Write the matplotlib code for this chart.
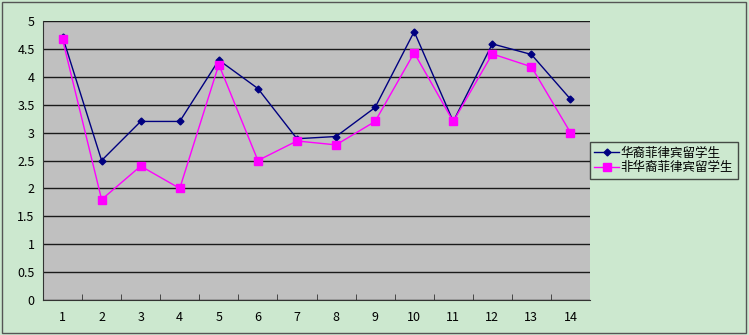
import matplotlib.pyplot as plt
from matplotlib.patches import Rectangle

plt.rcParams['font.family'] = ['Noto Sans CJK SC', 'DejaVu Sans']

# survey items 1..14
categories = list(range(1, 15))
chinese_filipino = [4.72, 2.5, 3.2, 3.2, 4.3, 3.79, 2.89, 2.93, 3.45, 4.81, 3.2, 4.59, 4.4, 3.6]
non_chinese_filipino = [4.67, 1.8, 2.4, 2.0, 4.22, 2.5, 2.85, 2.78, 3.2, 4.43, 3.2, 4.41, 4.18, 3.0]
series_names = ['华裔菲律宾留学生', '非华裔菲律宾留学生']

bg = '#CCE8CF'
fig = plt.figure(figsize=(7.49, 3.35), dpi=100, facecolor=bg)
ax = fig.add_axes([43 / 749, 1 - 300 / 335, (590 - 43) / 749, (300 - 21) / 335])
ax.set_facecolor('#C0C0C0')

ax.plot(categories, chinese_filipino, color='#000080', marker='D', markersize=3.5,
        linewidth=1, label=series_names[0], zorder=3)
ax.plot(categories, non_chinese_filipino, color='#FF00FF', marker='s', markersize=5.5,
        linewidth=1, label=series_names[1], zorder=3)

ax.set_xlim(0.5, 14.5)
ax.set_ylim(0, 5)
ax.set_yticks([0, 0.5, 1, 1.5, 2, 2.5, 3, 3.5, 4, 4.5, 5])
ax.set_yticklabels(['0', '0.5', '1', '1.5', '2', '2.5', '3', '3.5', '4', '4.5', '5'])
ax.yaxis.grid(True, color='#1a1a1a', linewidth=1)
ax.set_axisbelow(True)

# category labels at centres, tick marks between categories
ax.set_xticks(categories)
ax.set_xticklabels([str(c) for c in categories])
ax.tick_params(axis='x', length=0, labelsize=9, pad=8)
ax.set_xticks([c + 0.5 for c in categories[:-1]], minor=True)
ax.tick_params(axis='x', which='minor', direction='in', length=4, color='#333333')
ax.tick_params(axis='y', length=0, labelsize=9, pad=6)

for side in ['top', 'right']:
    ax.spines[side].set_visible(False)
ax.spines['left'].set_color('#333333')
ax.spines['bottom'].set_color('#333333')

leg = fig.legend(loc='center left', bbox_to_anchor=(590 / 749, 1 - 160.5 / 335),
                 fontsize=9, frameon=True, fancybox=False, borderpad=0.35,
                 borderaxespad=0, handlelength=2.0, handletextpad=0.1, labelspacing=0.15)
leg.get_frame().set_edgecolor('#222222')
leg.get_frame().set_facecolor(bg)
leg.get_frame().set_linewidth(1)

fig.patches.append(Rectangle((0.003, 0.005), 0.993, 0.99, transform=fig.transFigure,
                             fill=False, edgecolor='#555555', linewidth=1))

fig.savefig('out.png', dpi=100, facecolor=bg)
